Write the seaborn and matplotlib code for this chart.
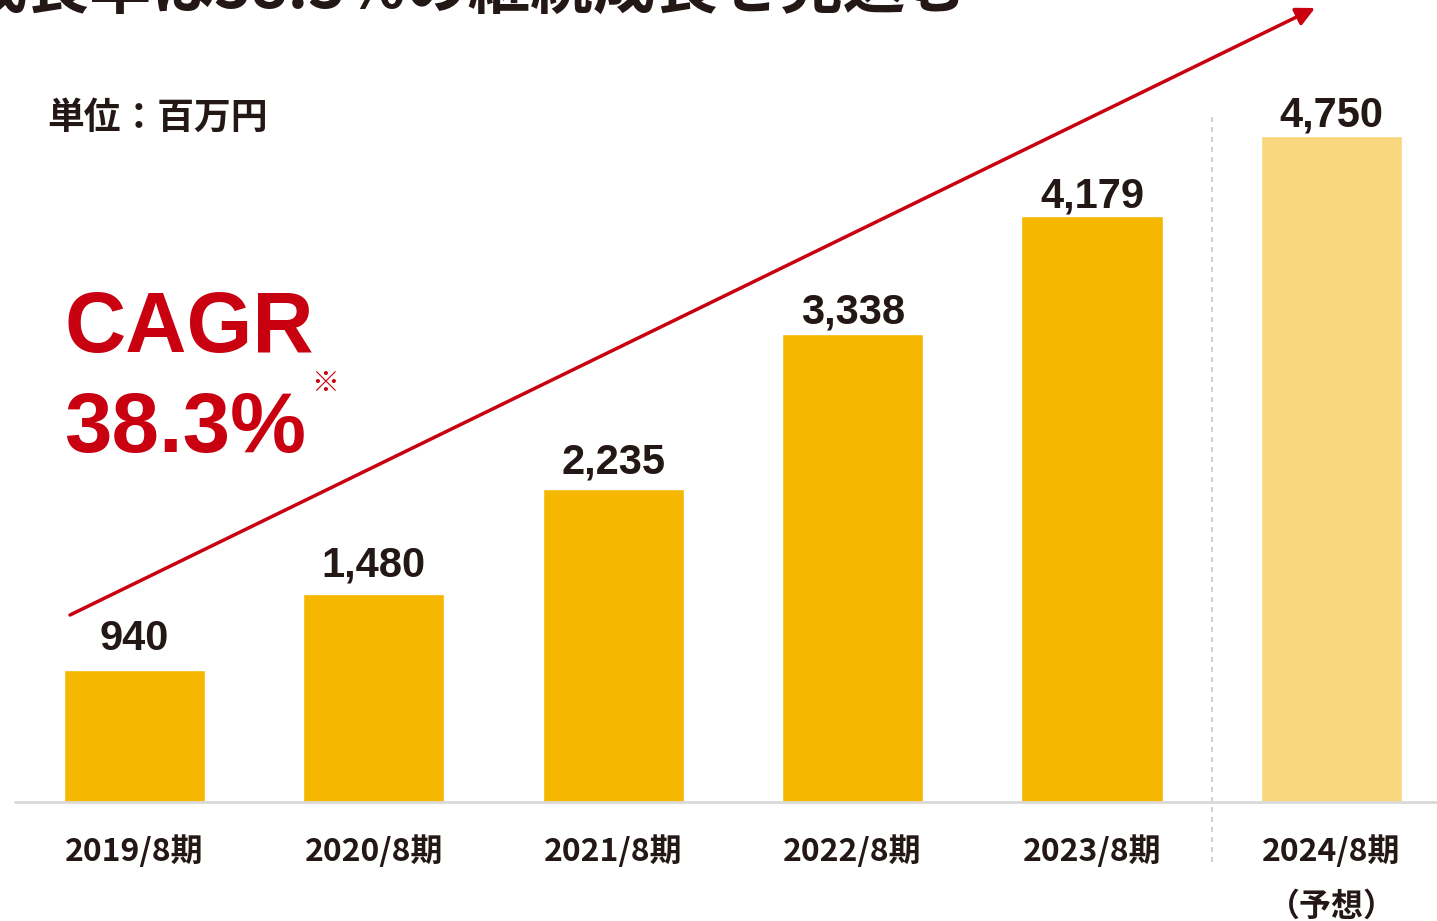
import numpy as np
import pandas as pd
import matplotlib
matplotlib.use('Agg')
import matplotlib.pyplot as plt
import seaborn as sns

# データ（単位：百万円）
periods = ['2019/8期', '2020/8期', '2021/8期', '2022/8期', '2023/8期', '2024/8期\n（予想）']
sales = [940, 1480, 2235, 3338, 4179, 4750]
value_labels = ['940', '1,480', '2,235', '3,338', '4,179', '4,750']
bar_colors = ['#F6B700', '#F6B700', '#F6B700', '#F6B700', '#F6B700', '#F8D77E']
# ラベルとバー上端の間隔（pt）
label_gaps = [14.4, 13, 10.8, 7.2, 6.5, 7.2]

RED = '#C8000F'
INK = '#231815'
JP = ['Noto Sans CJK JP', 'DejaVu Sans']
NUM = ['Liberation Sans', 'Noto Sans CJK JP']

sns.set_style('white')
plt.rcParams['font.family'] = JP

W, H = 1437, 921
fig = plt.figure(figsize=(W / 100, H / 100), dpi=100)
ax = fig.add_axes([15 / W, (H - 802) / H, (W - 15) / W, 802 / H])

df = pd.DataFrame({'period': periods, 'sales': sales})
sns.barplot(data=df, x='period', y='sales', hue='period', palette=bar_colors,
            legend=False, width=0.59, saturation=1, ax=ax)

ax.set_xlim(-0.499, 5.441)
ax.set_ylim(0, 5720)
sns.despine(ax=ax, left=True, bottom=True, top=True, right=True)
ax.set_yticks([])
ax.set_xlabel('')
ax.set_ylabel('')
ax.tick_params(axis='x', length=0, pad=24)
ax.set_xticks(range(len(periods)))
ax.set_xticklabels(periods, fontsize=23, fontweight='bold', color=INK, linespacing=1.92,
                   va='top')

# ベースライン
ax.axhline(0, color='#D9D9D9', lw=2, clip_on=False, zorder=5)

# 実績/予想の区切り線
ax.plot([4.5, 4.5], [-430, 4900], color='#C8C8C8', lw=1.2, ls=(0, (3, 3)), clip_on=False)

# 値ラベル
for i, (v, lab) in enumerate(zip(sales, value_labels)):
    ax.annotate(lab, (i, v), xytext=(0, label_gaps[i]), textcoords='offset points',
                ha='center', va='baseline', fontsize=30, fontweight='bold',
                color=INK, family=NUM)

# 成長矢印
ax.annotate('', xy=(1315, H - 8), xycoords='figure pixels',
            xytext=(70, H - 615), textcoords='figure pixels',
            arrowprops=dict(arrowstyle='-|>', color=RED, lw=2.5, mutation_scale=28,
                            shrinkA=0, shrinkB=0))

# テキスト
fig.text(968 / W, 1 - 9 / H, '成長率は38.3%の継続成長を見込む', ha='right', va='baseline',
         fontsize=45, fontweight='bold', color=INK, family=JP)
fig.text(47 / W, 1 - 118 / H, '単位：百万円', ha='left', va='center',
         fontsize=26.5, fontweight='bold', color=INK, family=JP)
fig.text(64 / W, 1 - 352 / H, 'CAGR', ha='left', va='baseline',
         fontsize=61, fontweight='bold', color=RED, family=NUM)
fig.text(64 / W, 1 - 452 / H, '38.3%', ha='left', va='baseline',
         fontsize=61.5, fontweight='bold', color=RED, family=NUM)
fig.text(325 / W, 1 - 384 / H, '※', ha='center', va='center',
         fontsize=20, fontweight='bold', color=RED, family=JP)

fig.savefig('out.png', dpi=100)
